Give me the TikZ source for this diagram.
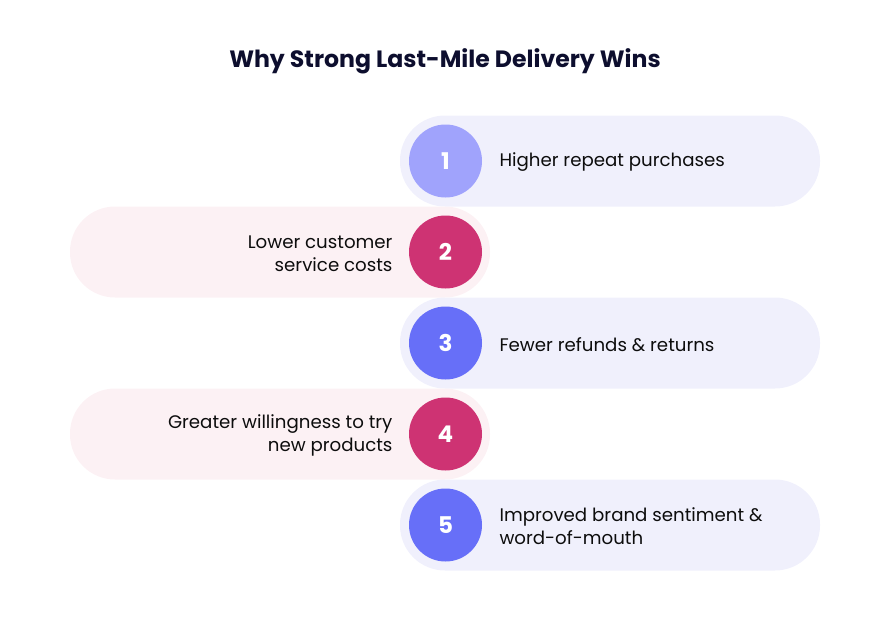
\documentclass[tikz,border=0pt]{standalone}
\usepackage{fontspec}
\setmainfont{Poppins}
\usetikzlibrary{positioning}
\definecolor{titleblue}{HTML}{0D0E2E}
\definecolor{lavpill}{HTML}{F0F0FC}
\definecolor{rosepill}{HTML}{FCF1F4}
\definecolor{softblue}{HTML}{A0A3FC}
\definecolor{deepblue}{HTML}{676FF8}
\definecolor{berry}{HTML}{CE3373}
\begin{document}
\begin{tikzpicture}[x=1pt,y=-1pt,
pillR/.style={rectangle,rounded corners=45pt,fill=lavpill,minimum width=420pt,minimum height=91pt,inner sep=0pt},
pillL/.style={pillR,fill=rosepill},
num/.style={circle,minimum size=73pt,inner sep=0pt,text=white,font=\fontsize{23}{27}\selectfont\bfseries},
txtR/.style={anchor=west,align=left,font=\fontsize{18.2}{23}\selectfont,text=black!95},
txtL/.style={anchor=east,align=right,font=\fontsize{18.2}{23}\selectfont,text=black!95}]
\useasboundingbox (0,0) rectangle (890,624);
% titolo
\node[font=\fontsize{23.6}{28}\selectfont\bfseries,text=titleblue] (title) at (445,61) {Why Strong Last-Mile Delivery Wins};
% pillole
\node[pillR] (p1) at (610,161) {};
\node[pillL] (p2) at (280,252) {};
\node[pillR] (p3) at (610,343) {};
\node[pillL] (p4) at (280,434) {};
\node[pillR] (p5) at (610,525) {};
% cerchi numerati
\node[num,fill=softblue] (c1) at (445.5,161) {1};
\node[num,fill=berry] (c2) at (445.5,252) {2};
\node[num,fill=deepblue] (c3) at (445.5,343) {3};
\node[num,fill=berry] (c4) at (445.5,434) {4};
\node[num,fill=deepblue] (c5) at (445.5,525) {5};
% testi
\node[txtR] (t1) at (496,162.5) {Higher repeat purchases};
\node[txtL] (t2) at (396,253.5) {Lower customer\\service costs};
\node[txtR] (t3) at (496,344.5) {Fewer refunds \& returns};
\node[txtL] (t4) at (396,435.5) {Greater willingness to try\\new products};
\node[txtR] (t5) at (496,526.5) {Improved brand sentiment \&\\word-of-mouth};
\end{tikzpicture}
\end{document}
